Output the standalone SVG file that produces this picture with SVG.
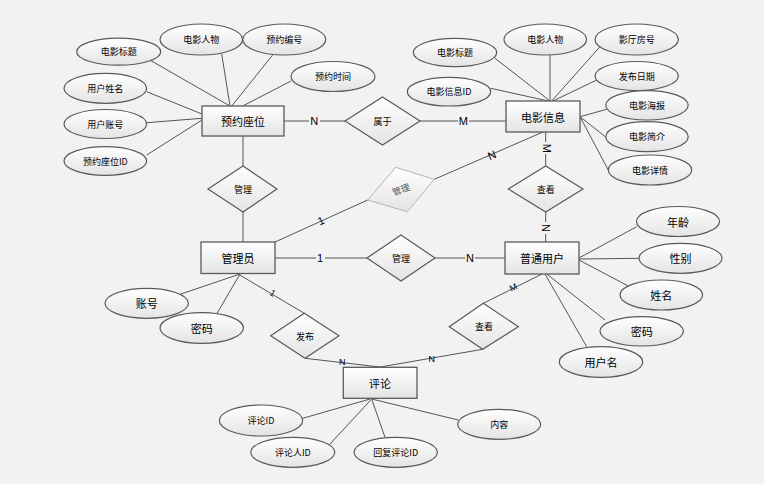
<svg xmlns="http://www.w3.org/2000/svg" width="764" height="484" viewBox="0 0 764 484">
<defs>
<linearGradient id="g" x1="0" y1="0" x2="0" y2="1"><stop offset="0" stop-color="#ffffff"/><stop offset="1" stop-color="#e4e4e4"/></linearGradient>
<style>
.e{fill:url(#g);stroke:#5a5a5a;stroke-width:1.2}
.r{fill:url(#g);stroke:#5a5a5a;stroke-width:1.3}
.d{fill:url(#g);stroke:#5a5a5a;stroke-width:1.2}
.dg{fill:url(#g);stroke:#b4b4b4;stroke-width:1}
.l{stroke:#555;stroke-width:1;fill:none}
.lg{stroke:#b0b0b0;stroke-width:1;fill:none}
text{font-family:"Noto Sans CJK SC","Noto Sans",sans-serif;fill:#000;text-anchor:middle;dominant-baseline:central}
.t1{font-size:11px}
.t2{font-size:9px}
.t3{font-size:11px}
.lb{font-family:"Liberation Sans",sans-serif;font-size:11px}
.lbs{font-family:"Liberation Sans",sans-serif;font-size:9px}
.bg{fill:#f2f2f2}
</style>
</defs>
<rect width="764" height="484" fill="#f2f2f2"/>
<g id="connectors">
<line class="l" x1="151" y1="60.7" x2="230" y2="106"/>
<line class="l" x1="221.7" y1="54" x2="230" y2="106"/>
<line class="l" x1="274" y1="53.3" x2="231.7" y2="106"/>
<line class="l" x1="291" y1="81" x2="242.7" y2="106"/>
<line class="l" x1="146.7" y1="91.7" x2="202" y2="114"/>
<line class="l" x1="146.7" y1="122.7" x2="202" y2="118.3"/>
<line class="l" x1="146.7" y1="155" x2="202" y2="120"/>
<line class="l" x1="495" y1="58.3" x2="550" y2="101"/>
<line class="l" x1="550" y1="55" x2="550" y2="101"/>
<line class="l" x1="600" y1="46.7" x2="551.7" y2="101"/>
<line class="l" x1="596.7" y1="80" x2="553" y2="101"/>
<line class="l" x1="490.7" y1="88.3" x2="548.3" y2="101"/>
<line class="l" x1="606.7" y1="109.3" x2="580" y2="116.7"/>
<line class="l" x1="607.3" y1="138.3" x2="580" y2="116.7"/>
<line class="l" x1="610" y1="173.3" x2="580" y2="116.7"/>
<line class="l" x1="284" y1="121" x2="345" y2="121"/>
<line class="l" x1="420" y1="121" x2="506" y2="121"/>
<line class="l" x1="243" y1="136" x2="243" y2="166"/>
<line class="l" x1="243" y1="212" x2="243" y2="242"/>
<line class="l" x1="275" y1="242" x2="367.7" y2="200"/>
<line class="l" x1="434.3" y1="179.3" x2="543" y2="132"/>
<line class="l" x1="545.7" y1="132" x2="545.7" y2="166"/>
<line class="l" x1="545.7" y1="212" x2="545.7" y2="242"/>
<line class="l" x1="275" y1="258" x2="367" y2="258"/>
<line class="l" x1="435" y1="258" x2="505" y2="258"/>
<line class="l" x1="180" y1="294.3" x2="240" y2="274"/>
<line class="l" x1="216.7" y1="314" x2="240" y2="274"/>
<line class="l" x1="238" y1="274" x2="304.3" y2="313.3"/>
<line class="l" x1="305" y1="358.3" x2="380" y2="367"/>
<line class="l" x1="542" y1="274" x2="483.3" y2="303.3"/>
<line class="l" x1="482.7" y1="349.3" x2="380" y2="367"/>
<line class="l" x1="636.7" y1="226.7" x2="579" y2="258"/>
<line class="l" x1="639.3" y1="258.3" x2="579" y2="259"/>
<line class="l" x1="628.3" y1="286" x2="579" y2="260"/>
<line class="l" x1="605" y1="320" x2="546.7" y2="274"/>
<line class="l" x1="586.7" y1="346.7" x2="545" y2="274"/>
<line class="l" x1="302.7" y1="418.3" x2="370" y2="399"/>
<line class="l" x1="330" y1="444" x2="371.7" y2="399"/>
<line class="l" x1="385" y1="437.3" x2="371.7" y2="399"/>
<line class="l" x1="458.3" y1="420" x2="371.7" y2="399"/>
<rect class="bg" x="309" y="115" width="11" height="12"/>
<text class="lb" x="314.3" y="121">N</text>
<rect class="bg" x="458" y="115" width="11" height="12"/>
<text class="lb" x="463.3" y="121">M</text>
<rect class="bg" x="316" y="253" width="9" height="12"/>
<text class="lb" x="320" y="258.3">1</text>
<rect class="bg" x="465" y="252" width="10" height="12"/>
<text class="lb" x="470" y="258">N</text>
<text class="lb" x="321" y="220.7" transform="rotate(-24.4 321 220.7)">1</text>
<text class="lb" x="491.7" y="155" transform="rotate(-23.3 491.7 155)">N</text>
<rect class="bg" x="540" y="142" width="12" height="12"/>
<text class="lb" x="546.7" y="148.3" transform="rotate(90 546.7 148.3)">M</text>
<rect class="bg" x="539" y="222" width="12" height="12"/>
<text class="lb" x="545.7" y="228" transform="rotate(90 545.7 228)">N</text>
<text class="lbs" x="272.7" y="293.3" transform="rotate(30.6 272.7 293.3)">1</text>
<text class="lbs" x="342.3" y="361.7">N</text>
<text class="lbs" x="513.3" y="287.3" transform="rotate(-26 513.3 287.3)">M</text>
<text class="lbs" x="431.7" y="359.3">N</text>
</g>
<g id="e-dianyingbiaoti1"><ellipse class="e" cx="118.7" cy="51.7" rx="42" ry="13.5"/><text class="t2" x="118.7" y="51.7">电影标题</text></g>
<g id="e-dianyingrenwu1"><ellipse class="e" cx="201.3" cy="39.5" rx="41.3" ry="15.5"/><text class="t2" x="201.3" y="39.5">电影人物</text></g>
<g id="e-yuyuebianhao"><ellipse class="e" cx="284.3" cy="39.5" rx="41.5" ry="15.5"/><text class="t2" x="284.3" y="39.5">预约编号</text></g>
<g id="e-yuyueshijian"><ellipse class="e" cx="333" cy="76.5" rx="42" ry="15"/><text class="t2" x="333" y="76.5">预约时间</text></g>
<g id="e-yonghuxingming"><ellipse class="e" cx="105.3" cy="88.3" rx="41.3" ry="15"/><text class="t2" x="105.3" y="88.3">用户姓名</text></g>
<g id="e-yonghuzhanghao"><ellipse class="e" cx="105.3" cy="124" rx="41.3" ry="14.5"/><text class="t2" x="105.3" y="124">用户账号</text></g>
<g id="e-yuyuezuoweiid"><ellipse class="e" cx="105.3" cy="161" rx="41.3" ry="14.3"/><text class="t2" x="105.3" y="161">预约座位ID</text></g>
<g id="e-dianyingbiaoti2"><ellipse class="e" cx="455" cy="52.5" rx="41.7" ry="14.2"/><text class="t2" x="455" y="52.5">电影标题</text></g>
<g id="e-dianyingrenwu2"><ellipse class="e" cx="545.3" cy="39.5" rx="41.3" ry="15.5"/><text class="t2" x="545.3" y="39.5">电影人物</text></g>
<g id="e-yingtingfanghao"><ellipse class="e" cx="636.7" cy="39.5" rx="41.7" ry="15.5"/><text class="t2" x="636.7" y="39.5">影厅房号</text></g>
<g id="e-faburiqi"><ellipse class="e" cx="636.7" cy="76" rx="41.7" ry="14.5"/><text class="t2" x="636.7" y="76">发布日期</text></g>
<g id="e-dianyingxinxiid"><ellipse class="e" cx="449" cy="91.7" rx="41.7" ry="14.3"/><text class="t2" x="449" y="91.7">电影信息ID</text></g>
<g id="e-dianyinghaibao"><ellipse class="e" cx="647" cy="105.3" rx="41.2" ry="14.7"/><text class="t2" x="647" y="105.3">电影海报</text></g>
<g id="e-dianyingjianjie"><ellipse class="e" cx="647" cy="136.7" rx="41.2" ry="15"/><text class="t2" x="647" y="136.7">电影简介</text></g>
<g id="e-dianyingxiangqing"><ellipse class="e" cx="650" cy="170" rx="41.7" ry="15"/><text class="t2" x="650" y="170">电影详情</text></g>
<g id="e-zhanghao"><ellipse class="e" cx="146.7" cy="303.3" rx="41.7" ry="15"/><text class="t3" x="146.7" y="303.3">账号</text></g>
<g id="e-mima1"><ellipse class="e" cx="201.7" cy="328" rx="41.7" ry="15.3"/><text class="t3" x="201.7" y="328">密码</text></g>
<g id="e-nianling"><ellipse class="e" cx="678" cy="221.5" rx="41.5" ry="15"/><text class="t3" x="678" y="221.5">年龄</text></g>
<g id="e-xingbie"><ellipse class="e" cx="680.5" cy="258.3" rx="41.5" ry="15"/><text class="t3" x="680.5" y="258.3">性别</text></g>
<g id="e-xingming"><ellipse class="e" cx="661.3" cy="295" rx="41.3" ry="15"/><text class="t3" x="661.3" y="295">姓名</text></g>
<g id="e-mima2"><ellipse class="e" cx="641.7" cy="331.3" rx="41.7" ry="14.7"/><text class="t3" x="641.7" y="331.3">密码</text></g>
<g id="e-yonghuming"><ellipse class="e" cx="601" cy="362" rx="41.7" ry="15.3"/><text class="t3" x="601" y="362">用户名</text></g>
<g id="e-pinglunid"><ellipse class="e" cx="261" cy="420.5" rx="41.7" ry="15.5"/><text class="t2" x="261" y="420.5">评论ID</text></g>
<g id="e-pinglunrenid"><ellipse class="e" cx="292.8" cy="452.3" rx="42" ry="15"/><text class="t2" x="292.8" y="452.3">评论人ID</text></g>
<g id="e-huifupinglunid"><ellipse class="e" cx="395.7" cy="452.3" rx="41.7" ry="15"/><text class="t2" x="395.7" y="452.3">回复评论ID</text></g>
<g id="e-neirong"><ellipse class="e" cx="499.2" cy="424.3" rx="41.5" ry="15"/><text class="t2" x="499.2" y="424.3">内容</text></g>
<g id="d-shuyu"><polygon class="d" points="345,121 382.5,97 420,121 382.5,145"/><text class="t2" x="382.5" y="121">属于</text></g>
<g id="d-guanli1"><polygon class="d" points="208,189 243,166 277,189 243,212"/><text class="t2" x="243" y="189">管理</text></g>
<g id="d-guanli-grey"><polygon class="dg" points="395.7,167.3 434.3,179.3 407.3,211.7 367.7,200"/><text class="t2" x="401" y="189.5" fill="#555" style="fill:#555" transform="rotate(-20 401 189.5)">管理</text></g>
<g id="d-chakan1"><polygon class="d" points="508.3,189 545.7,166 583,189 545.7,212"/><text class="t2" x="545.7" y="189">查看</text></g>
<g id="d-guanli2"><polygon class="d" points="367,258 401,235 435,258 401,281"/><text class="t2" x="401" y="258">管理</text></g>
<g id="d-fabu"><polygon class="d" points="270.7,335.7 304.3,313.3 339,335.7 305,358.3"/><text class="t2" x="305" y="336">发布</text></g>
<g id="d-chakan2"><polygon class="d" points="449.3,326.7 483.3,303.3 518.3,326.7 482.7,349.3"/><text class="t2" x="484" y="326.5">查看</text></g>
<g id="n-yuyuezuowei"><rect class="r" x="202" y="106" width="82" height="30"/><text class="t1" x="243" y="121">预约座位</text></g>
<g id="n-dianyingxinxi"><rect class="r" x="506" y="101" width="74" height="31"/><text class="t1" x="543" y="116.5">电影信息</text></g>
<g id="n-guanliyuan"><rect class="r" x="201" y="242" width="74" height="31.5"/><text class="t1" x="238" y="258">管理员</text></g>
<g id="n-putongyonghu"><rect class="r" x="505" y="242" width="74" height="32"/><text class="t1" x="542" y="258">普通用户</text></g>
<g id="n-pinglun"><rect class="r" x="343.3" y="367.3" width="73.7" height="31"/><text class="t1" x="380" y="383">评论</text></g>
</svg>
